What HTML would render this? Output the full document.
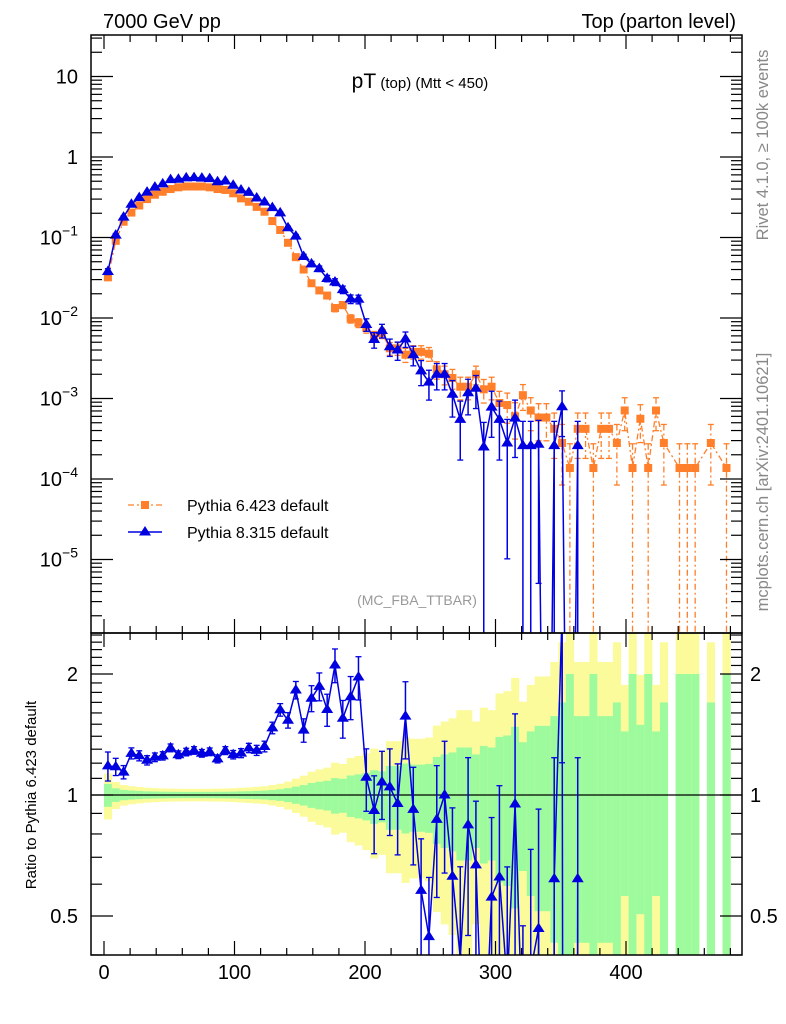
<!DOCTYPE html>
<html><head><meta charset="utf-8"><style>
html,body{margin:0;padding:0;background:#fff;width:786px;height:1024px;overflow:hidden;}
svg{display:block;font-family:"Liberation Sans",sans-serif;}
</style></head><body>
<svg id="chart" width="786" height="1024" viewBox="0 0 786 1024" xmlns="http://www.w3.org/2000/svg">
<defs>
<clipPath id="clipMain"><rect x="91" y="35" width="651" height="598"/></clipPath>
<clipPath id="clipRatio"><rect x="91" y="633" width="651" height="322"/></clipPath>
</defs>
<g id="bands" clip-path="url(#clipRatio)"></g>
<g id="mainMarks" clip-path="url(#clipMain)"></g>
<g id="ratioMarks" clip-path="url(#clipRatio)"></g>
<g id="axes"></g>
<text x="103" y="28" font-size="20">7000 GeV pp</text>
<text x="736" y="28" font-size="20" text-anchor="end">Top (parton level)</text>
<text x="420" y="88" text-anchor="middle"><tspan font-size="21">pT</tspan><tspan font-size="15"> (top) (Mtt &lt; 450)</tspan></text>
<text x="417" y="605" font-size="14" fill="#999" text-anchor="middle">(MC_FBA_TTBAR)</text>
<text transform="translate(768,145) rotate(-90)" font-size="16.5" fill="#888" text-anchor="middle">Rivet 4.1.0, ≥ 100k events</text>
<text transform="translate(768,482) rotate(-90)" font-size="16.5" fill="#888" text-anchor="middle">mcplots.cern.ch [arXiv:2401.10621]</text>
<text transform="translate(36,795) rotate(-90)" font-size="15" text-anchor="middle">Ratio to Pythia 6.423 default</text>
<g>
<g>
<line x1="128" y1="505" x2="162" y2="505" stroke="#ff7f2a" stroke-width="1.3" stroke-dasharray="6,3,2,3"/>
<rect x="141" y="501" width="8" height="8" fill="#ff7f2a"/>
<text x="187" y="511" font-size="16">Pythia 6.423 default</text></g>
<g>
<line x1="128" y1="532" x2="162" y2="532" stroke="#0000e0" stroke-width="1.5"/>
<polygon points="145,526 151,535.5 139,535.5" fill="#0000e0"/>
<text x="187" y="538" font-size="16">Pythia 8.315 default</text></g>
</g>
</svg>
<script>
const binWidth = 6;
const nBins = 80;
const pythia6 = [0.032,0.091,0.157,0.204,0.25,0.30,0.34,0.37,0.40,0.42,
0.43,0.43,0.43,0.42,0.40,0.39,0.354,0.306,0.278,0.24,
0.209,0.16,0.124,0.086,0.057,0.040,0.027,0.022,0.019,0.0133,
0.0145,0.0098,0.0087,0.0075,0.0059,0.0065,0.0042,0.0042,0.0035,0.0038,
0.0038,0.0036,0.0023,0.0020,0.0018,0.0014,0.0014,0.0020,0.0013,0.0014,
0.00088,0.00083,0.00060,0.0011,0.00071,0.00058,0.00058,0.00042,0.00028,0.000137,
0.00042,0.00042,0.000137,0.00042,0.00042,0.00028,0.00071,0.000137,0.00056,0.000137,
0.00071,0.00028,0,0.000137,0.000137,0.000137,0,0.00028,0,0.000137];
const pythia8 = [0.0378,0.107,0.179,0.259,0.313,0.366,0.422,0.463,0.524,0.529,
0.550,0.555,0.546,0.538,0.492,0.503,0.446,0.389,0.364,0.310,
0.276,0.235,0.202,0.132,0.104,0.058,0.047,0.041,0.031,0.028,
0.0225,0.0172,0.0171,0.0083,0.0054,0.0070,0.0044,0.0040,0.0055,0.0035,
0.0022,0.0016,0.0020,0.0020,0.00113,0.00055,0.00118,0.00134,0.00025,0.00078,
0.00055,0.00028,0.00057,0.00026,0.00026,0.00027,0,0.00026,0.00079,0,
0.00026,0,0,0,0,0,0,0,0,0,
0,0,0,0,0,0,0,0,0,0];
const unitWeight6 = 0.000137;
const unitWeight8 = 0.00026;
const xTicks = [0,100,200,300,400];
const mainDecades = [-5,-4,-3,-2,-1,0,1];
const ratioTicks = [0.5,1,2];

const NS="http://www.w3.org/2000/svg";
const L=91,R=742,T=35,MB=633,RB=955;
function X(v){return 104+1.305*v;}
function Ym(v){return 157-80.5*Math.log10(v);}
function Yr(r){return 795-402*Math.log10(r);}
function mk(tag,attrs,parent){const e=document.createElementNS(NS,tag);for(const k in attrs)e.setAttribute(k,attrs[k]);parent.appendChild(e);return e;}
const gMain=document.getElementById('mainMarks'),gRatio=document.getElementById('ratioMarks'),gBands=document.getElementById('bands'),gAx=document.getElementById('axes');
const OR='#ff7f2a',BL='#0000e0';
const safe=v=>v>0?v:1e-12;

for(let i=0;i<nBins;i++){
  const v=pythia6[i]; if(!(v>0)) continue;
  const e=1/Math.sqrt(v/unitWeight6);
  const x0=X(i*binWidth),x1=X((i+1)*binWidth);
  const y=mk('rect',{x:x0,y:Yr(1+2*e),width:x1-x0+0.3,height:Yr(safe(1-2*e))-Yr(1+2*e),fill:'#fbfb9c'},gBands);
  
  
  const g=mk('rect',{x:x0,y:Yr(1+e),width:x1-x0+0.3,height:Yr(safe(1-e))-Yr(1+e),fill:'#9dfb9d'},gBands);
  
  
}
mk('line',{x1:L,x2:R,y1:Yr(1),y2:Yr(1),stroke:'#000','stroke-width':1.2},gBands);

let pts=[];
for(let i=0;i<nBins;i++){const v=pythia6[i];if(v>0)pts.push(X(i*binWidth+3)+','+Ym(v));}
const ol=mk('polyline',{points:pts.join(' '),fill:'none',stroke:OR,'stroke-width':1.3,'stroke-dasharray':'6,3,2,3'},gMain);


for(let i=0;i<nBins;i++){const v=pythia6[i];if(!(v>0))continue;
  const e=1/Math.sqrt(v/unitWeight6),x=X(i*binWidth+3);
  const hi=Ym(v*(1+e)),lo=Ym(safe(v*(1-e)));
  mk('line',{x1:x,x2:x,y1:hi,y2:lo,stroke:OR,'stroke-width':1.3,'stroke-dasharray':'6,3,2,3'},gMain);
  mk('line',{x1:x-3,x2:x+3,y1:hi,y2:hi,stroke:OR,'stroke-width':1.3},gMain);
  mk('line',{x1:x-3,x2:x+3,y1:lo,y2:lo,stroke:OR,'stroke-width':1.3},gMain);
  const s=mk('rect',{x:x-4,y:Ym(v)-4,width:8,height:8,fill:OR},gMain);
  
  
}
let last8=0;for(let i=0;i<nBins;i++)if(pythia8[i]>0)last8=i;
pts=[];
for(let i=0;i<=last8;i++){pts.push(X(i*binWidth+3)+','+Ym(safe(pythia8[i])));}
const bl=mk('polyline',{points:pts.join(' '),fill:'none',stroke:BL,'stroke-width':1.5},gMain);


for(let i=0;i<=last8;i++){const v=pythia8[i];if(!(v>0))continue;
  const e=1/Math.sqrt(v/unitWeight8),x=X(i*binWidth+3);
  const hi=Ym(v*(1+e)),lo=Ym(safe(v*(1-e)));
  mk('line',{x1:x,x2:x,y1:hi,y2:lo,stroke:BL,'stroke-width':1.5},gMain);
  mk('line',{x1:x-3,x2:x+3,y1:hi,y2:hi,stroke:BL,'stroke-width':1.3},gMain);
  mk('line',{x1:x-3,x2:x+3,y1:lo,y2:lo,stroke:BL,'stroke-width':1.3},gMain);
  const y=Ym(v);
  const t=mk('polygon',{points:`${x},${y-6} ${x+6},${y+3.5} ${x-6},${y+3.5}`,fill:BL},gMain);
  
  
}
pts=[];
for(let i=0;i<=last8;i++){const o=pythia6[i];if(!(o>0))continue;pts.push(X(i*binWidth+3)+','+Yr(safe(pythia8[i]/o)));}
const rl=mk('polyline',{points:pts.join(' '),fill:'none',stroke:BL,'stroke-width':1.5},gRatio);


for(let i=0;i<=last8;i++){const o=pythia6[i],v=pythia8[i];if(!(o>0)||!(v>0))continue;
  const r=v/o,e=1/Math.sqrt(v/unitWeight8),x=X(i*binWidth+3);
  const hi=Yr(r*(1+e)),lo=Yr(safe(r*(1-e)));
  mk('line',{x1:x,x2:x,y1:hi,y2:lo,stroke:BL,'stroke-width':1.5},gRatio);
  mk('line',{x1:x-3,x2:x+3,y1:hi,y2:hi,stroke:BL,'stroke-width':1.3},gRatio);
  mk('line',{x1:x-3,x2:x+3,y1:lo,y2:lo,stroke:BL,'stroke-width':1.3},gRatio);
  const y=Yr(r);
  const t=mk('polygon',{points:`${x},${y-6} ${x+6},${y+3.5} ${x-6},${y+3.5}`,fill:BL},gRatio);
  
  
}

mk('rect',{x:L,y:T,width:R-L,height:MB-T,fill:'none',stroke:'#000','stroke-width':1.5},gAx);
mk('rect',{x:L,y:MB,width:R-L,height:RB-MB,fill:'none',stroke:'#000','stroke-width':1.5},gAx);
function tick(y,len){mk('line',{x1:L,x2:L+len,y1:y,y2:y,stroke:'#000','stroke-width':1.2},gAx);mk('line',{x1:R,x2:R-len,y1:y,y2:y,stroke:'#000','stroke-width':1.2},gAx);}
for(let d=-6;d<=1;d++){for(let m=1;m<=9;m++){const v=m*Math.pow(10,d);const y=Ym(v);if(y<T||y>MB)continue;tick(y,m===1?22:11);}}
mainDecades.forEach(d=>{const y=Ym(Math.pow(10,d));
  const t=mk('text',{x:78,y:y+7,'font-size':20,'text-anchor':'end'},gAx);
  if(d===0)t.textContent='1';else if(d===1)t.textContent='10';
  else{t.textContent='10';const s=mk('tspan',{dy:-9,'font-size':14},t);s.textContent='−'+(-d);}
  
  
});
[0.4,0.5,0.6,0.7,0.8,0.9,1,1.1,1.2,1.3,1.4,1.5,1.6,1.7,1.8,1.9,2,2.1,2.2,2.3,2.4,2.5].forEach(r=>{const y=Yr(r);if(y<MB||y>RB)return;const maj=ratioTicks.includes(r);tick(y,maj?22:11);});
ratioTicks.forEach(r=>{const y=Yr(r);
  const a=mk('text',{x:78,y:y+7,'font-size':20,'text-anchor':'end'},gAx);a.textContent=String(r);
  
  
  const b=mk('text',{x:750,y:y+7,'font-size':20},gAx);b.textContent=String(r);
  
  
});
for(let v=-20;v<=500;v+=20){const x=X(v);if(x<L||x>R)continue;const maj=v%100===0;const len=maj?14:7;
  [[T,1],[MB,1],[MB,-1],[RB,-1]].forEach(([y0,s])=>mk('line',{x1:x,x2:x,y1:y0,y2:y0+s*len,stroke:'#000','stroke-width':1.2},gAx));}
xTicks.forEach(v=>{const t=mk('text',{x:X(v),y:979,'font-size':20,'text-anchor':'middle'},gAx);t.textContent=String(v);
  
  });
</script>
</body></html>
